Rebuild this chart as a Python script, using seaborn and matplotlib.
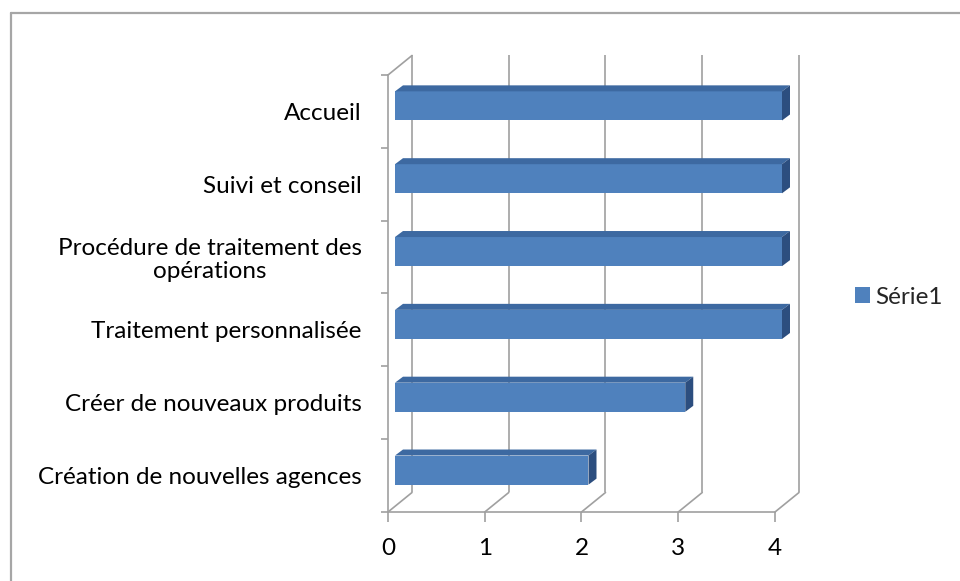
import numpy as np
import pandas as pd
import matplotlib
matplotlib.use("Agg")
import matplotlib.pyplot as plt
import matplotlib.transforms as mtransforms
from matplotlib.patches import Polygon
from matplotlib.lines import Line2D
import seaborn as sns

# ---- data ----
categories = [
    "Accueil",
    "Suivi et conseil",
    "Procédure de traitement des\nopérations",
    "Traitement personnalisée",
    "Créer de nouveaux produits",
    "Création de nouvelles agences",
]
values = [4, 4, 4, 4, 3, 2]
series_name = "Série1"
x_ticks = [0, 1, 2, 3, 4]

# ---- style ----
sns.set_theme(style="white")
plt.rcParams["font.family"] = ["Lato", "DejaVu Sans"]

FRONT = "#4F81BD"
TOP = "#3D69A1"
SIDE = "#2C4E7F"
GRID = "#A0A0A0"
FONT_SIZE = 17.5

W, H, DPI = 960, 581, 100
fig = plt.figure(figsize=(W / DPI, H / DPI), dpi=DPI)

# plot box in pixels (front axis origin at left/bottom)
px_left, px_right, px_top, px_bottom = 388, 830, 50, 512
front_x4 = 775          # pixel of value 4 on the front axis
front_top = 75          # pixel of the top of the front category axis
ax = fig.add_axes([px_left / W, 1 - px_bottom / H,
                   (px_right - px_left) / W, (px_bottom - px_top) / H])

px_per_x = (front_x4 - px_left) / x_ticks[-1]
px_per_y = (px_bottom - front_top) / len(categories)

df = pd.DataFrame({"cat": categories, "val": values, "serie": series_name})
sns.barplot(data=df, x="val", y="cat", hue="serie", orient="h", width=0.4,
            dodge=False, palette=[FRONT], saturation=1, ax=ax, zorder=4,
            linewidth=0)

n = len(categories)
ax.set_xlim(0, (px_right - px_left) / px_per_x)
ax.set_ylim(n - 0.5, -0.5 - (front_top - px_top) / px_per_y)

# depth of the wall/floor and of the bars (3-D look)
DX = 24 / px_per_x
DY = 19.5 / px_per_y
bar_shift = mtransforms.ScaledTranslation(7 / DPI, 5.5 / DPI, fig.dpi_scale_trans)
bdx = 8 / px_per_x
bdy = 6 / px_per_y
bar_tr = ax.transData + bar_shift

bars = [p for p in ax.patches if p.get_width() > 0]
for p in bars:
    p.set_transform(bar_tr)
    x0, y0 = p.get_x(), p.get_y()
    x1, y1 = x0 + p.get_width(), y0 + p.get_height()
    yt, yb = min(y0, y1), max(y0, y1)
    top = Polygon([(x0, yt), (x1, yt), (x1 + bdx, yt - bdy), (x0 + bdx, yt - bdy)],
                  closed=True, facecolor=TOP, edgecolor="none", transform=bar_tr,
                  zorder=4, clip_on=False)
    side = Polygon([(x1, yt), (x1, yb), (x1 + bdx, yb - bdy), (x1 + bdx, yt - bdy)],
                   closed=True, facecolor=SIDE, edgecolor="none", transform=bar_tr,
                   zorder=4, clip_on=False)
    ax.add_patch(top)
    ax.add_patch(side)

# back wall gridlines and floor diagonals
lw = 1.2
y_lo, y_hi = n - 0.5, -0.5
for v in x_ticks:
    ax.plot([v + DX, v + DX], [y_lo - DY, y_hi - DY], color=GRID, lw=lw, zorder=1,
            clip_on=False, solid_capstyle="butt")
    ax.plot([v, v + DX], [y_lo, y_lo - DY], color=GRID, lw=lw, zorder=1, clip_on=False)
ax.plot([0, DX], [y_hi, y_hi - DY], color=GRID, lw=lw, zorder=1, clip_on=False)

# axes lines
for s in ["top", "right"]:
    ax.spines[s].set_visible(False)
for s in ["left", "bottom"]:
    ax.spines[s].set_color(GRID)
    ax.spines[s].set_linewidth(lw)
ax.spines["left"].set_bounds(y_lo, y_hi)
ax.spines["bottom"].set_bounds(x_ticks[0], x_ticks[-1])

ax.set_xticks(x_ticks)
ax.set_xticklabels([str(t) for t in x_ticks])
ax.set_yticks(range(n))
ax.set_yticklabels(categories)
ax.set_yticks(np.arange(-0.5, n, 1.0), minor=True)
ax.tick_params(axis="x", bottom=True, length=7, width=lw, color=GRID,
               labelsize=FONT_SIZE, pad=12, labelcolor="black")
ax.tick_params(axis="y", which="major", left=True, length=0, pad=19,
               labelsize=FONT_SIZE, labelcolor="black")
ax.tick_params(axis="y", which="minor", left=True, length=5, width=lw, color=GRID)
for lbl in ax.get_yticklabels():
    lbl.set_multialignment("center")
    lbl.set_linespacing(1.1)
ax.set_xlabel("")
ax.set_ylabel("")

# legend to the right
handles, labels = ax.get_legend_handles_labels()
ax.legend(handles, labels, loc="center left", bbox_to_anchor=(855 / W, 1 - 297 / H),
          bbox_transform=fig.transFigure, frameon=False, fontsize=FONT_SIZE,
          handlelength=0.62, handleheight=0.62, handletextpad=0.2,
          borderpad=0, borderaxespad=0)

# chart area border
fig.add_artist(Line2D([11 / W, 11 / W], [0, 1 - 13 / H], transform=fig.transFigure,
                      color="#A6A6A6", lw=1.6))
fig.add_artist(Line2D([11 / W, 1], [1 - 13 / H, 1 - 13 / H], transform=fig.transFigure,
                      color="#A6A6A6", lw=1.6))

fig.savefig("out.png", dpi=DPI, facecolor="white")
